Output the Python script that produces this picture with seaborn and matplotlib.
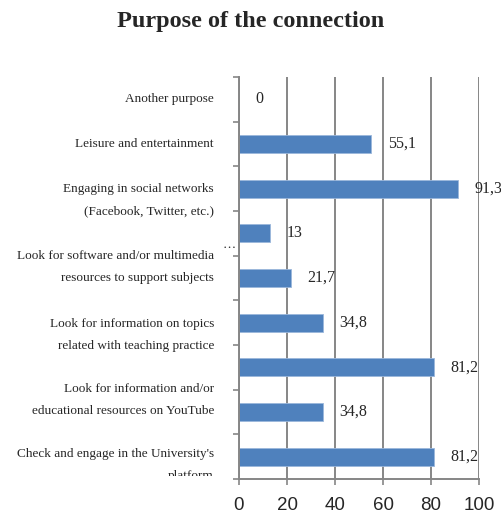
import matplotlib
matplotlib.use("Agg")
import matplotlib.pyplot as plt
import matplotlib.transforms as mtransforms
from matplotlib.patches import Rectangle
import pandas as pd
import seaborn as sns

# datos
categorias = ["Another purpose",
              "Leisure and entertainment",
              "Engaging in social networks\n(Facebook, Twitter, etc.)",
              "…",
              "Look for software and/or multimedia\nresources to support subjects",
              "Look for information on topics\nrelated with teaching practice",
              " ",
              "Look for information and/or\neducational resources on YouTube",
              "Check and engage in the University's\nplatform"]
valores = [0, 55.1, 91.3, 13, 21.7, 34.8, 81.2, 34.8, 81.2]
etiquetas = ["0", "55,1", "91,3", "13", "21,7", "34,8", "81,2", "34,8", "81,2"]
# desplazamiento vertical de cada etiqueta de categoria (en categorias)
desplazamiento = [0, 0, 0.25, 0.27, -0.25, 0.27, 0, -0.27, 0.18]
x_ticks = [0, 20, 40, 60, 80, 100]

sns.set_style("white")
plt.rcParams['font.family'] = ['Liberation Serif', 'DejaVu Serif']

df = pd.DataFrame({'categoria': categorias, 'valor': valores})

fig = plt.figure(figsize=(5.02, 5.18), dpi=100)
ax = fig.add_axes([239 / 502, 39 / 518, 240 / 502, 402 / 518])

sns.barplot(data=df, x='valor', y='categoria', orient='h', color='#4F81BD',
            width=0.4, saturation=1, edgecolor='#9BB7DB', linewidth=0.6, ax=ax)

ax.set_xlim(0, 100)
ax.set_ylim(len(categorias) - 0.5, -0.5)
ax.set_xticks(x_ticks)
ax.set_xticklabels([str(t) for t in x_ticks], family='Liberation Sans', fontsize=13.5)
ax.set_xlabel('')
ax.set_ylabel('')
ax.xaxis.grid(True, color='#868686', linewidth=1.4)
ax.set_axisbelow(True)

ax.set_yticks(range(len(categorias)))
ax.set_yticklabels([])
ax.set_yticks([i - 0.5 for i in range(len(categorias) + 1)], minor=True)
ax.tick_params(axis='y', which='major', length=0)
ax.tick_params(axis='y', which='minor', length=4, color='#868686', width=1.2, left=True)
ax.tick_params(axis='x', length=4, color='#868686', width=1.2, bottom=True, pad=9)

for lado in ['top', 'right']:
    ax.spines[lado].set_visible(False)
for lado in ['left', 'bottom']:
    ax.spines[lado].set_color('#868686')
    ax.spines[lado].set_linewidth(1.4)

# etiquetas de valores
for i, (v, txt) in enumerate(zip(valores, etiquetas)):
    ax.annotate(txt, xy=(v, i), xytext=(12, 0), textcoords='offset points',
                va='center', ha='left', fontsize=11.5)

# etiquetas de categoria desplazadas como en el original
trans = mtransforms.blended_transform_factory(ax.transAxes, ax.transData)
clip = Rectangle((0, 42 / 518), 1, 1, transform=fig.transFigure)
for i, (cat, d) in enumerate(zip(categorias, desplazamiento)):
    if cat.strip() == '':
        continue
    sep = -2 if cat == "…" else -18
    t = ax.annotate(cat, xy=(0, i + d), xycoords=trans, xytext=(sep, 0),
                    textcoords='offset points', va='center', ha='right',
                    fontsize=9.5, linespacing=2.15, annotation_clip=False)
    t.set_clip_on(True)
    t.set_clip_path(clip)

fig.text(0.5, 1 - 21 / 518, 'Purpose of the connection', ha='center', va='center',
         fontsize=17.5, fontweight='bold')

plt.savefig('out.png', dpi=100)
plt.close()
